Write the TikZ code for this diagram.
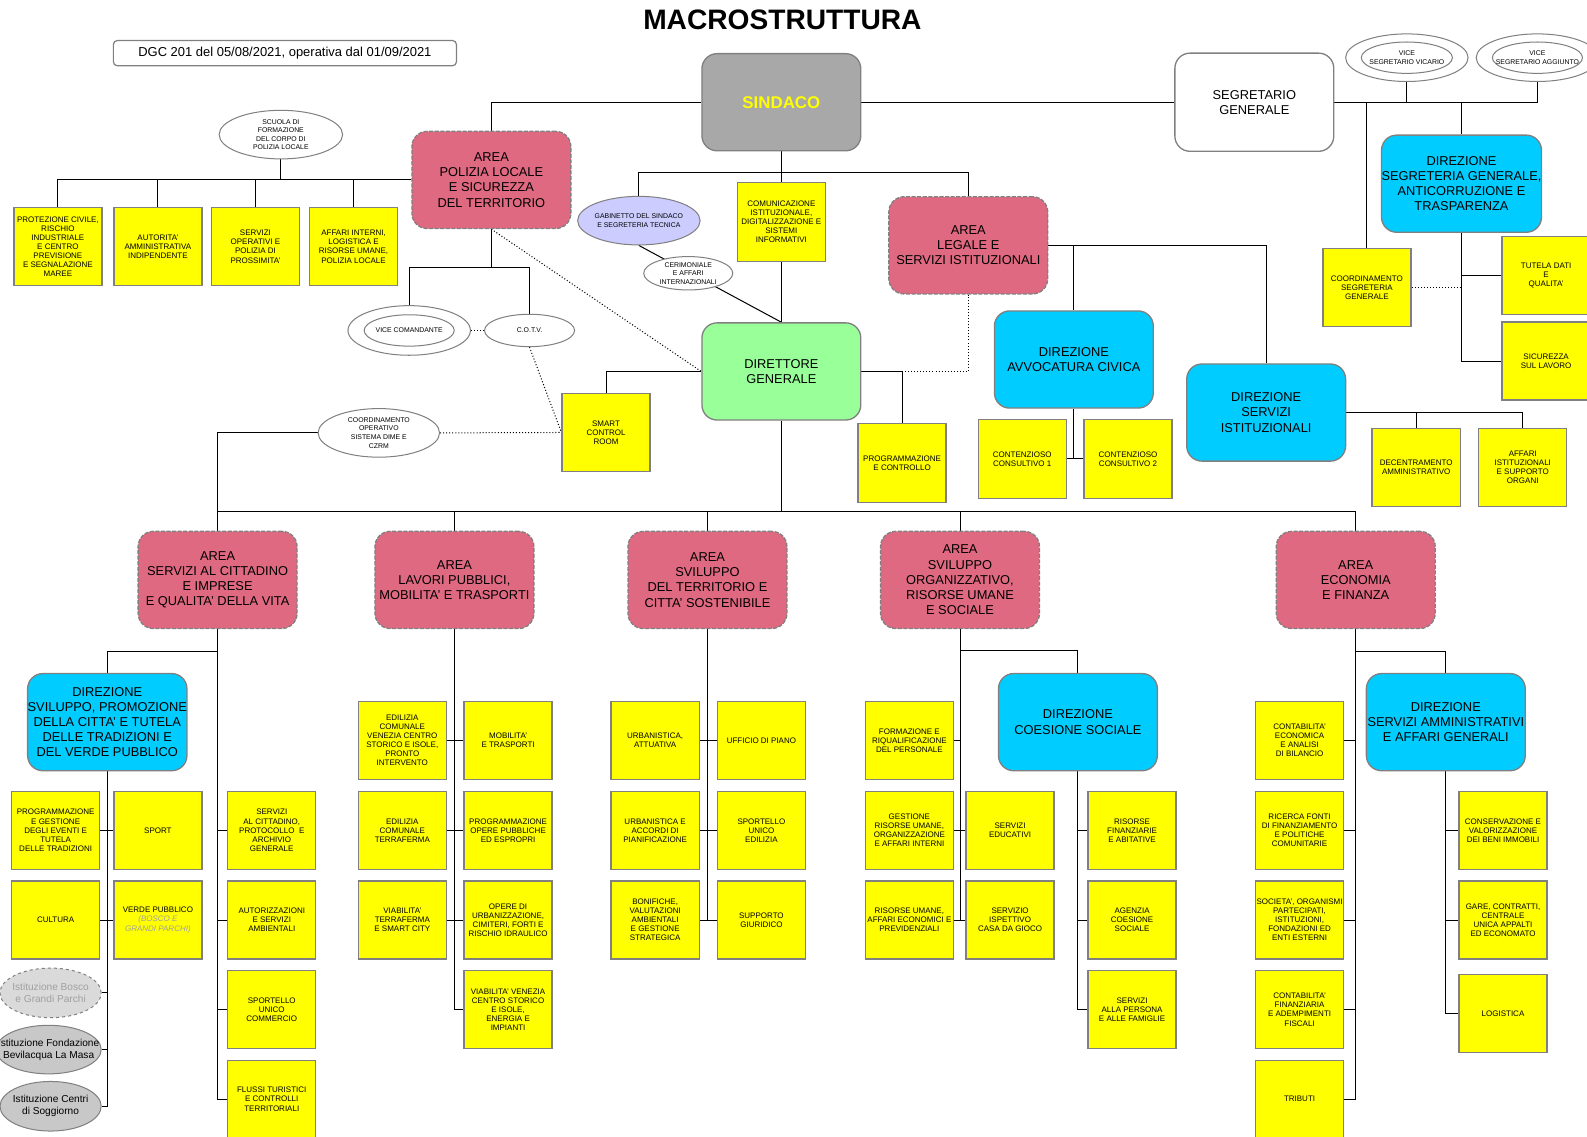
\documentclass[tikz,border=0pt]{standalone}
\usepackage{fontspec}
\setmainfont{Liberation Sans}
\usepackage{tikz}
\usetikzlibrary{shapes.geometric}
\usetikzlibrary{backgrounds}
\definecolor{bordgray}{RGB}{128,128,128}
\definecolor{yfill}{RGB}{255,255,0}
\definecolor{areapink}{RGB}{224,105,130}
\definecolor{dircyan}{RGB}{0,204,255}
\definecolor{dirgreen}{RGB}{153,255,153}
\definecolor{lavfill}{RGB}{204,204,255}
\definecolor{sindgray}{RGB}{168,168,168}
\definecolor{istgray}{RGB}{200,200,200}
\definecolor{boscogray}{RGB}{218,218,218}
\definecolor{txtgray}{RGB}{160,160,160}

\begin{document}
\begin{tikzpicture}[x=1pt,y=-1pt,
	ybox/.style={draw=bordgray,line width=1.3pt,fill=yfill,minimum width=87pt,minimum height=77pt,inner sep=0pt,align=center,font=\fontsize{7.9}{9}\selectfont},
	areabox/.style={draw=bordgray,line width=1.3pt,dash pattern=on 4pt off 1.5pt,fill=areapink,rounded corners=15pt,minimum width=157pt,minimum height=96pt,inner sep=0pt,align=center,font=\fontsize{12.7}{15}\selectfont},
	dirbox/.style={areabox,solid,fill=dircyan},
	oval/.style={ellipse,draw=bordgray,line width=1pt,fill=white,inner sep=0pt},
	ovaltxt/.style={align=center,inner sep=0pt,font=\fontsize{6.8}{8.5}\selectfont},
	istoval/.style={oval,fill=istgray,minimum width=102pt,minimum height=49pt},
	isttxt/.style={align=center,inner sep=0pt,font=\fontsize{10}{12}\selectfont},
	link/.style={line width=1pt},
	dotlink/.style={line width=1pt,dotted}]
	\useasboundingbox (0,0) rectangle (1568,1123);

	% titolo e delibera
	\node[font=\fontsize{27.8}{30}\selectfont\bfseries] (titolo) at (773,20) {MACROSTRUTTURA};
	\node[draw=bordgray,line width=1.2pt,rounded corners=4pt,minimum width=339pt,minimum height=25pt,inner sep=0pt,font=\fontsize{12.8}{14}\selectfont] (dgc) at (281.5,52.5) {DGC 201 del 05/08/2021, operativa dal 01/09/2021};

	% vertice
	\node[areabox,solid,fill=sindgray,text=yfill,font=\fontsize{16.7}{18}\selectfont\bfseries] (sindaco) at (772,101) {SINDACO};
	\node[areabox,solid,fill=white,minimum height=97pt] (segretario) at (1239.3,101) {SEGRETARIO\\GENERALE};
	\node[oval,minimum width=121pt,minimum height=47pt] (vicevic) at (1390,57) {};
	\node[oval,minimum width=90pt,minimum height=31pt] (vicevicin) at (vicevic) {};
	\node[ovaltxt] (vicevict) at (vicevic) {VICE\\SEGRETARIO VICARIO};
	\node[oval,minimum width=121pt,minimum height=47pt] (viceagg) at (1519,57) {};
	\node[oval,minimum width=89pt,minimum height=31pt] (viceaggin) at (viceagg) {};
	\node[ovaltxt] (viceaggt) at (viceagg) {VICE\\SEGRETARIO AGGIUNTO};
	\node[dirbox] (dirseg) at (1444,181.5) {DIREZIONE\\SEGRETERIA GENERALE,\\ANTICORRUZIONE E\\TRASPARENZA};
	\node[ybox] (coordseg) at (1350.5,284) {COORDINAMENTO\\SEGRETERIA\\GENERALE};
	\node[ybox] (tutela) at (1527.6,272.2) {TUTELA DATI\\E\\QUALITA'};
	\node[ybox] (sicurezza) at (1527.6,356.7) {SICUREZZA\\SUL LAVORO};

	% polizia locale
	\node[areabox] (polizia) at (485.5,177.8) {AREA\\POLIZIA LOCALE\\E SICUREZZA\\DEL TERRITORIO};
	\node[oval,minimum width=122pt,minimum height=48pt] (scuola) at (277.5,133) {};
	\node[ovaltxt] (scuolat) at (scuola) {SCUOLA DI\\FORMAZIONE\\DEL CORPO DI\\POLIZIA LOCALE};
	\node[ybox] (protezione) at (57.2,243.7) {PROTEZIONE CIVILE,\\RISCHIO\\INDUSTRIALE\\E CENTRO\\PREVISIONE\\E SEGNALAZIONE\\MAREE};
	\node[ybox] (autorita) at (156,243.7) {AUTORITA'\\AMMINISTRATIVA\\INDIPENDENTE};
	\node[ybox] (servop) at (252.4,243.7) {SERVIZI\\OPERATIVI E\\POLIZIA DI\\PROSSIMITA'};
	\node[ybox] (affint) at (349.3,243.7) {AFFARI INTERNI,\\LOGISTICA E\\RISORSE UMANE,\\POLIZIA LOCALE};
	\node[oval,minimum width=121pt,minimum height=49pt] (vicecom) at (404.3,326.5) {};
	\node[oval,minimum width=89pt,minimum height=31pt] (vicecomin) at (vicecom) {};
	\node[ovaltxt] (vicecomt) at (vicecom) {VICE COMANDANTE};
	\node[oval,minimum width=89pt,minimum height=32pt] (cotv) at (523.2,326.5) {};
	\node[ovaltxt] (cotvt) at (cotv) {C.O.T.V.};
	\node[oval,minimum width=120pt,minimum height=48pt] (coordop) at (374.3,427.7) {};
	\node[ovaltxt] (coordopt) at (coordop) {COORDINAMENTO\\OPERATIVO\\SISTEMA DIME E\\CZRM};
	\node[ybox] (smart) at (598.8,427.3) {SMART\\CONTROL\\ROOM};

	% staff del sindaco
	\node[oval,fill=lavfill,minimum width=121pt,minimum height=48pt] (gabinetto) at (631.2,218) {};
	\node[ovaltxt] (gabinettot) at (gabinetto) {GABINETTO DEL SINDACO\\E SEGRETERIA TECNICA};
	\node[oval,minimum width=88pt,minimum height=33pt] (cerimoniale) at (680,270) {};
	\node[ovaltxt] (cerimonialet) at (cerimoniale) {CERIMONIALE\\E AFFARI\\INTERNAZIONALI};
	\node[ybox,minimum height=78pt] (comunicazione) at (772,219.3) {COMUNICAZIONE\\ISTITUZIONALE,\\DIGITALIZZAZIONE E\\SISTEMI\\INFORMATIVI};
	\node[areabox] (legale) at (956.7,242.4) {AREA\\LEGALE E\\SERVIZI ISTITUZIONALI};
	\node[dirbox,fill=dirgreen] (direttore) at (772,367) {DIRETTORE\\GENERALE};
	\node[ybox,minimum height=78pt] (prog) at (891.3,457.3) {PROGRAMMAZIONE\\E CONTROLLO};

	% area legale
	\node[dirbox] (avvocatura) at (1061,355.2) {DIREZIONE\\AVVOCATURA CIVICA};
	\node[ybox,minimum height=78pt] (cont1) at (1010,453.4) {CONTENZIOSO\\CONSULTIVO 1};
	\node[ybox,minimum height=78pt] (cont2) at (1114.5,453.4) {CONTENZIOSO\\CONSULTIVO 2};
	\node[dirbox] (dirserv) at (1251,407.6) {DIREZIONE\\SERVIZI\\ISTITUZIONALI};
	\node[ybox] (decentramento) at (1399.2,461.8) {DECENTRAMENTO\\AMMINISTRATIVO};
	\node[ybox] (affari) at (1504.5,461.8) {AFFARI\\ISTITUZIONALI\\E SUPPORTO\\ORGANI};

	% aree
	\node[areabox] (area1) at (215,573) {AREA\\SERVIZI AL CITTADINO\\E IMPRESE\\E QUALITA' DELLA VITA};
	\node[areabox] (area2) at (449,573) {AREA\\LAVORI PUBBLICI,\\MOBILITA' E TRASPORTI};
	\node[areabox] (area3) at (699,573) {AREA\\SVILUPPO\\DEL TERRITORIO E\\CITTA' SOSTENIBILE};
	\node[areabox] (area4) at (948.5,573) {AREA\\SVILUPPO\\ORGANIZZATIVO,\\RISORSE UMANE\\E SOCIALE};
	\node[areabox] (area5) at (1339.5,573) {AREA\\ECONOMIA\\E FINANZA};

	% area servizi al cittadino
	\node[dirbox] (dirsvil) at (106,713.5) {DIREZIONE\\SVILUPPO, PROMOZIONE\\DELLA CITTA' E TUTELA\\DELLE TRADIZIONI E\\DEL VERDE PUBBLICO};
	\node[ybox] (progev) at (55,820.5) {PROGRAMMAZIONE\\E GESTIONE\\DEGLI EVENTI E\\TUTELA\\DELLE TRADIZIONI};
	\node[ybox] (sport) at (156,820.5) {SPORT};
	\node[ybox] (cultura) at (55,909) {CULTURA};
	\node[ybox] (verde) at (156,909) {VERDE PUBBLICO\\\textcolor{txtgray}{\itshape (BOSCO E}\\\textcolor{txtgray}{\itshape GRANDI PARCHI)}};
	\node[istoval,fill=boscogray,dashed,minimum width=100pt] (bosco) at (50,981) {};
	\node[isttxt,text=txtgray] (boscot) at (bosco) {Istituzione Bosco\\e Grandi Parchi};
	\node[istoval,minimum width=104pt,minimum height=48pt] (fondaz) at (48,1037) {};
	\node[isttxt] (fondazt) at (fondaz) {Istituzione Fondazione\\Bevilacqua La Masa};
	\node[istoval,minimum width=100pt] (centri) at (50,1093) {};
	\node[isttxt] (centrit) at (centri) {Istituzione Centri\\di Soggiorno};
	\node[ybox] (servcitt) at (268.5,820.5) {SERVIZI\\AL CITTADINO,\\PROTOCOLLO~ E\\ARCHIVIO\\GENERALE};
	\node[ybox] (autorizz) at (268.5,909) {AUTORIZZAZIONI\\E SERVIZI\\AMBIENTALI};
	\node[ybox] (sportcomm) at (268.5,997.5) {SPORTELLO\\UNICO\\COMMERCIO};
	\node[ybox] (flussi) at (268.5,1086) {FLUSSI TURISTICI\\E CONTROLLI\\TERRITORIALI};

	% area lavori pubblici
	\node[ybox] (edilven) at (397.5,731.5) {EDILIZIA\\COMUNALE\\VENEZIA CENTRO\\STORICO E ISOLE,\\PRONTO\\INTERVENTO};
	\node[ybox] (mobilita) at (502,731.5) {MOBILITA'\\E TRASPORTI};
	\node[ybox] (edilter) at (397.5,820.5) {EDILIZIA\\COMUNALE\\TERRAFERMA};
	\node[ybox] (progop) at (502,820.5) {PROGRAMMAZIONE\\OPERE PUBBLICHE\\ED ESPROPRI};
	\node[ybox] (viabter) at (397.5,909) {VIABILITA'\\TERRAFERMA\\E SMART CITY};
	\node[ybox] (operurb) at (502,909) {OPERE DI\\URBANIZZAZIONE,\\CIMITERI, FORTI E\\RISCHIO IDRAULICO};
	\node[ybox] (viabven) at (502,997.5) {VIABILITA' VENEZIA\\CENTRO STORICO\\E ISOLE,\\ENERGIA E\\IMPIANTI};

	% area sviluppo del territorio
	\node[ybox] (urbatt) at (647.3,731.5) {URBANISTICA,\\ATTUATIVA};
	\node[ybox] (ufficio) at (752.3,731.5) {UFFICIO DI PIANO};
	\node[ybox] (urbacc) at (647.3,820.5) {URBANISTICA E\\ACCORDI DI\\PIANIFICAZIONE};
	\node[ybox] (sportedil) at (752.3,820.5) {SPORTELLO\\UNICO\\EDILIZIA};
	\node[ybox] (bonifiche) at (647.3,909) {BONIFICHE,\\VALUTAZIONI\\AMBIENTALI\\E GESTIONE\\STRATEGICA};
	\node[ybox] (supporto) at (752.3,909) {SUPPORTO\\GIURIDICO};

	% area sviluppo organizzativo
	\node[ybox] (formazione) at (898.5,731.5) {FORMAZIONE E\\RIQUALIFICAZIONE\\DEL PERSONALE};
	\node[ybox] (gestione) at (898.5,820.5) {GESTIONE\\RISORSE UMANE,\\ORGANIZZAZIONE\\E AFFARI INTERNI};
	\node[ybox] (educativi) at (998,820.5) {SERVIZI\\EDUCATIVI};
	\node[ybox] (rum) at (898.5,909) {RISORSE UMANE,\\AFFARI ECONOMICI E\\PREVIDENZIALI};
	\node[ybox] (ispettivo) at (998,909) {SERVIZIO\\ISPETTIVO\\CASA DA GIOCO};
	\node[dirbox] (dircoes) at (1065,713.5) {DIREZIONE\\COESIONE SOCIALE};
	\node[ybox] (finanz) at (1118.5,820.5) {RISORSE\\FINANZIARIE\\E ABITATIVE};
	\node[ybox] (agenzia) at (1118.5,909) {AGENZIA\\COESIONE\\SOCIALE};
	\node[ybox] (persona) at (1118.5,997.5) {SERVIZI\\ALLA PERSONA\\E ALLE FAMIGLIE};

	% area economia e finanza
	\node[ybox] (contec) at (1284,731.5) {CONTABILITA'\\ECONOMICA\\E ANALISI\\DI BILANCIO};
	\node[ybox] (ricerca) at (1284,820.5) {RICERCA FONTI\\DI FINANZIAMENTO\\E POLITICHE\\COMUNITARIE};
	\node[ybox] (societa) at (1284,909) {SOCIETA', ORGANISMI\\PARTECIPATI,\\ISTITUZIONI,\\FONDAZIONI ED\\ENTI ESTERNI};
	\node[ybox] (contfin) at (1284,997.5) {CONTABILITA'\\FINANZIARIA\\E ADEMPIMENTI\\FISCALI};
	\node[ybox] (tributi) at (1284,1086) {TRIBUTI};
	\node[dirbox] (dirserv2) at (1428.5,713.5) {DIREZIONE\\SERVIZI AMMINISTRATIVI\\E AFFARI GENERALI};
	\node[ybox] (conserv) at (1485,820.5) {CONSERVAZIONE E\\VALORIZZAZIONE\\DEI BENI IMMOBILI};
	\node[ybox] (gare) at (1485,909) {GARE, CONTRATTI,\\CENTRALE\\UNICA APPALTI\\ED ECONOMATO};
	\node[ybox] (logistica) at (1485,1001.5) {LOGISTICA};

	\coordinate (sj) at (772,170);
	\coordinate (pj) at (485.5,264);
	\coordinate (mj) at (772,505.6);
	\coordinate (a1j) at (215,644);
	\coordinate (a4j) at (948.5,643);
	\coordinate (a5j) at (1339.5,644);

	\begin{scope}[on background layer]
		% vertice
		\draw[link] (sindaco.west) -| (polizia.north);
		\draw[link] (sindaco.east) -- (segretario.west);
		\draw[link] (segretario.east) -| (viceagg.south);
		\draw[link] (vicevic.south) -- (vicevic.south |- segretario.east);
		\draw[link] (coordseg.north) -- (coordseg.north |- segretario.east);
		\draw[link] (dirseg.north) -- (dirseg.north |- segretario.east);
		\draw[link] (dirseg.south) |- (sicurezza.west);
		\draw[link] (dirseg.south |- tutela.west) -- (tutela.west);
		\draw[dotlink] (coordseg.east) -- (coordseg.east -| dirseg.south);
		\draw[link] (sindaco.south) -- (comunicazione.north);
		\draw[link] (gabinetto.north) |- (sj) -| (legale.north);
		\draw[link] (comunicazione.south) -- (direttore.north);
		\draw[link] (gabinetto.south) -- (direttore.north);
		% polizia locale
		\draw[link] (polizia.west) -| (protezione.north);
		\foreach \u in {autorita,servop,affint}
			\draw[link] (\u.north |- polizia.west) -- (\u.north);
		\draw[link] (scuola.south) -- (scuola.south |- polizia.west);
		\draw[link] (polizia.south) -- (pj);
		\draw[link] (vicecom.north) |- (pj) -| (cotv.north);
		\draw[dotlink] (vicecom.east) -- (cotv.west);
		\draw[dotlink] (cotv.south) -- (smart.west);
		\draw[dotlink] (coordop.east) -- (smart.west);
		\draw[dotlink] (polizia.south) -- (direttore.west);
		\draw[link] (coordop.west) -| (area1.north);
		% direttore generale
		\draw[link] (smart.north) |- (direttore.west);
		\draw[link] (direttore.east) -| (prog.north);
		\draw[dotlink] (prog.north |- direttore.east) -| (legale.south);
		\draw[link] (direttore.south) -- (mj);
		\draw[link] (area1.north |- mj) -- (area5.north |- mj);
		\foreach \u in {area2,area3,area4,area5}
			\draw[link] (\u.north |- mj) -- (\u.north);
		% area legale
		\draw[link] (legale.east) -| (dirserv.north);
		\draw[link] (avvocatura.north) -- (avvocatura.north |- legale.east);
		\draw[link] (avvocatura.south) -- (avvocatura.south |- cont1.east);
		\draw[link] (cont1.east) -- (cont2.west);
		\draw[link] (dirserv.east) -| (affari.north);
		\draw[link] (decentramento.north) -- (decentramento.north |- dirserv.east);
		% area 1
		\draw[link] (area1.south) |- (flussi.west);
		\foreach \u in {servcitt,autorizz,sportcomm}
			\draw[link] (\u.west) -- (\u.west -| area1.south);
		\draw[link] (a1j) -| (dirsvil.north);
		\draw[link] (dirsvil.south) |- (centri.east);
		\draw[link] (progev.east) -- (sport.west);
		\draw[link] (cultura.east) -- (verde.west);
		\foreach \u in {bosco,fondaz}
			\draw[link] (\u.east) -- (\u.east -| dirsvil.south);
		% area 2
		\draw[link] (area2.south) |- (viabven.west);
		\draw[link] (edilven.east) -- (mobilita.west);
		\draw[link] (edilter.east) -- (progop.west);
		\draw[link] (viabter.east) -- (operurb.west);
		% area 3
		\draw[link] (area3.south) -- (area3.south |- bonifiche.east);
		\draw[link] (urbatt.east) -- (ufficio.west);
		\draw[link] (urbacc.east) -- (sportedil.west);
		\draw[link] (bonifiche.east) -- (supporto.west);
		% area 4
		\draw[link] (area4.south) -- (area4.south |- rum.east);
		\draw[link] (formazione.east) -- (formazione.east -| area4.south);
		\draw[link] (gestione.east) -- (educativi.west);
		\draw[link] (rum.east) -- (ispettivo.west);
		\draw[link] (a4j) -| (dircoes.north);
		\draw[link] (dircoes.south) |- (persona.west);
		\foreach \u in {finanz,agenzia}
			\draw[link] (\u.west) -- (\u.west -| dircoes.south);
		% area 5
		\draw[link] (area5.south) |- (tributi.east);
		\foreach \u in {contec,ricerca,societa,contfin}
			\draw[link] (\u.east) -- (\u.east -| area5.south);
		\draw[link] (a5j) -| (dirserv2.north);
		\draw[link] (dirserv2.south) |- (logistica.west);
		\foreach \u in {conserv,gare}
			\draw[link] (\u.west) -- (\u.west -| dirserv2.south);
	\end{scope}
\end{tikzpicture}
\end{document}
